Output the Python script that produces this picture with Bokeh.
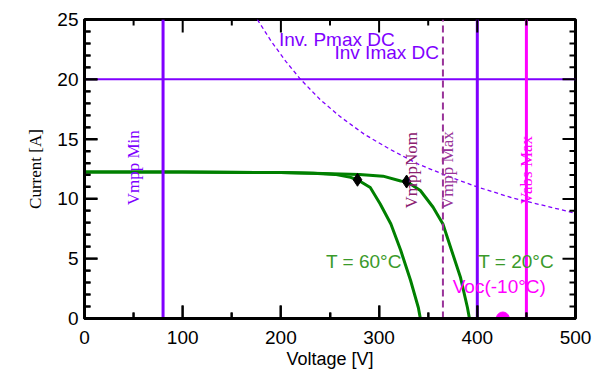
import math
from bokeh.plotting import figure
from bokeh.models import Range1d, FixedTicker
from bokeh.core.properties import value
from bokeh.embed import file_html
from bokeh.resources import INLINE

# ---- data ----
v_60 = [0, 100, 200, 233, 255, 271, 278, 291, 301, 312, 322, 332, 340, 342]
i_60 = [12.25, 12.24, 12.2, 12.15, 12.05, 11.8, 11.6, 10.95, 9.6, 7.9, 5.7, 3.2, 0.9, 0.0]
v_20 = [0, 100, 200, 233, 280, 304, 322, 328, 342, 355, 365, 373, 383, 390, 392]
i_20 = [12.25, 12.24, 12.2, 12.15, 12.05, 11.9, 11.5, 11.45, 10.7, 9.3, 7.9, 5.9, 3.4, 0.9, 0.0]
mpp_v = [278, 328]
mpp_i = [11.6, 11.45]
pmax_v = [176, 190, 205, 220, 240, 260, 285, 310, 340, 370, 400, 435, 470, 500]
pmax_i = [25.0, 23.2, 21.5, 20.0, 18.3, 16.9, 15.4, 14.2, 12.9, 11.9, 11.0, 10.1, 9.4, 8.8]
imax_dc = 20
vmpp_min = 80
vmpp_max = 365
v_inv_max = 400
vabs_max = 450
voc_cold = 426
x_ticks = [0, 100, 200, 300, 400, 500]
x_minor = [50, 150, 250, 350, 450]
y_ticks = [0, 5, 10, 15, 20, 25]
y_minor = [1, 2, 3, 4, 6, 7, 8, 9, 11, 12, 13, 14, 16, 17, 18, 19, 21, 22, 23, 24]

SANS = "Liberation Sans"
SERIF = "Liberation Serif"
VIOLET = "#8000ff"
MAGENTA = "#ff00ff"
DPURP = "#993399"
GREEN = "#008000"
TGREEN = "#3a9a2a"

FW, FH = 491, 299
X0, X1, Y0, Y1 = 0, 500, 0, 25

p = figure(frame_width=FW, frame_height=FH, output_backend="svg", toolbar_location=None,
           x_range=Range1d(X0, X1), y_range=Range1d(Y0, Y1),
           min_border_left=84, min_border_right=17, min_border_top=19, min_border_bottom=54,
           x_axis_label="Voltage [V]", y_axis_label="Current [A]")
p.xgrid.grid_line_color = None
p.ygrid.grid_line_color = None
p.outline_line_color = "black"
p.outline_line_width = 3

def style_axis(ax):
    ax.axis_line_width = 3
    ax.major_tick_in = 13
    ax.major_tick_out = 0
    ax.minor_tick_in = 6
    ax.minor_tick_out = 0
    ax.major_tick_line_width = 2
    ax.minor_tick_line_width = 2
    ax.major_label_text_font = SANS
    ax.major_label_text_font_size = "19px"
    ax.major_label_text_color = "black"

xa = p.xaxis[0]
ya = p.yaxis[0]
xa.ticker = FixedTicker(ticks=x_ticks, minor_ticks=x_minor)
ya.ticker = FixedTicker(ticks=y_ticks, minor_ticks=y_minor)
style_axis(xa)
style_axis(ya)
xa.major_label_standoff = 12
ya.major_label_standoff = 6
xa.axis_label_text_font = SANS
xa.axis_label_text_font_size = "18px"
xa.axis_label_text_font_style = "normal"
xa.axis_label_text_color = "black"
xa.axis_label_standoff = 2
ya.axis_label_text_font = SERIF
ya.axis_label_text_font_size = "17px"
ya.axis_label_text_font_style = "normal"
ya.axis_label_text_color = "black"
ya.axis_label_standoff = 9

# inverter limits
p.line(pmax_v, pmax_i, line_color=VIOLET, line_width=1.3, line_dash="4 3")
p.line([X0, X1], [imax_dc, imax_dc], line_color=VIOLET, line_width=2)

# IV curves
p.line(v_60, i_60, line_color=GREEN, line_width=3)
p.line(v_20, i_20, line_color=GREEN, line_width=3)

# voltage limits
p.line([vmpp_min, vmpp_min], [Y0, Y1], line_color=VIOLET, line_width=3)
p.line([vmpp_max, vmpp_max], [Y0, Y1], line_color=DPURP, line_width=2, line_dash="7 4")
p.line([v_inv_max, v_inv_max], [Y0, Y1], line_color=VIOLET, line_width=3)
p.line([vabs_max, vabs_max], [Y0, Y1], line_color=MAGENTA, line_width=3)

p.scatter(mpp_v, mpp_i, marker="diamond", size=13, color="black")
p.scatter([voc_cold], [0], marker="circle", size=13, color=MAGENTA)

# rotated labels
def vlabel(x, y, t, c):
    p.text([x], [y], text=[t], angle=math.pi / 2, text_align="center", text_baseline="middle",
           text_font=value(SERIF), text_font_size="17px", text_color=c)

vlabel(50, 12.6, "Vmpp Min", VIOLET)
vlabel(333, 12.4, "VmppNom", "#8b2070")
vlabel(370, 12.4, "Vmpp Max", DPURP)
vlabel(450, 12.4, "Vabs Max", MAGENTA)

def hlabel(x, y, t, c, align="left"):
    p.text([x], [y], text=[t], text_align=align, text_baseline="middle",
           text_font=value(SANS), text_font_size="19px", text_color=c)

hlabel(198, 23.3, "Inv. Pmax DC", VIOLET)
hlabel(361, 22.2, "Inv Imax DC", VIOLET, align="right")
hlabel(246, 4.76, "T = 60°C", TGREEN)
hlabel(401, 4.76, "T = 20°C", TGREEN)
hlabel(375, 2.67, "Voc(-10°C)", MAGENTA)

# inward tick marks on all four frame edges, drawn as thin filled bars
py = (Y1 - Y0) / FH
px = (X1 - X0) / FW
for xs, ln in ((x_ticks, 13), (x_minor, 6)):
    n = len(xs)
    p.quad(left=[x - px for x in xs], right=[x + px for x in xs],
           bottom=[Y1 - ln * py] * n, top=[Y1] * n, fill_color="black", line_color=None)
    p.quad(left=[x - px for x in xs], right=[x + px for x in xs],
           bottom=[Y0] * n, top=[Y0 + ln * py] * n, fill_color="black", line_color=None)
for ys, ln in ((y_ticks, 13), (y_minor, 6)):
    n = len(ys)
    p.quad(left=[X1 - ln * px] * n, right=[X1] * n,
           bottom=[y - py for y in ys], top=[y + py for y in ys], fill_color="black", line_color=None)
    p.quad(left=[X0] * n, right=[X0 + ln * px] * n,
           bottom=[y - py for y in ys], top=[y + py for y in ys], fill_color="black", line_color=None)

open("out.html", "w").write(file_html(p, INLINE))
